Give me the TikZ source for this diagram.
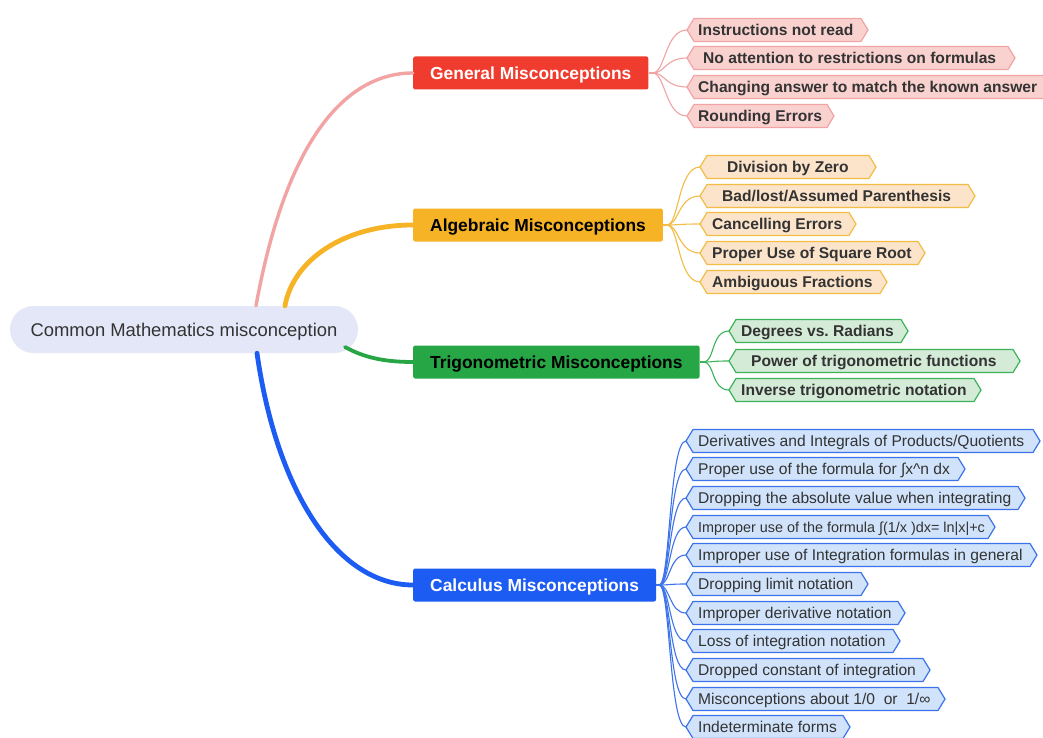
\documentclass[tikz,border=0pt]{standalone}
\usepackage{fontspec}
\setmainfont{Liberation Sans}
\usetikzlibrary{calc}
\frenchspacing
\definecolor{txt}{HTML}{333333}
\definecolor{rootfill}{HTML}{E4E7F8}
\definecolor{genmain}{HTML}{F03C2E}
\definecolor{genfill}{HTML}{F9D2D0}
\definecolor{genline}{HTML}{F2A3A3}
\definecolor{algmain}{HTML}{F5B325}
\definecolor{algfill}{HTML}{FCE4CA}
\definecolor{algline}{HTML}{F3BC45}
\definecolor{trimain}{HTML}{26A645}
\definecolor{trifill}{HTML}{D4EBD7}
\definecolor{triline}{HTML}{3BB358}
\definecolor{calmain}{HTML}{1D5CF3}
\definecolor{calfill}{HTML}{D0E3FA}
\definecolor{calline}{HTML}{3C73EA}
\newcommand{\myRootFont}{\fontsize{18.4}{22}\selectfont}
\newcommand{\myMainFont}{\fontsize{17.4}{21}\selectfont\bfseries}
\newcommand{\myLeafBold}{\fontsize{15.6}{19}\selectfont\bfseries}
\newcommand{\myLeafReg}{\fontsize{15.6}{19}\selectfont}
\newcommand{\myLeafSmall}{\fontsize{14.4}{17}\selectfont}
\tikzset{
  rootbox/.style={fill=rootfill, rounded corners=23.5, minimum width=348, minimum height=47, font=\myRootFont, text=txt, text height=13.2, text depth=0},
  mainbox/.style={rounded corners=2, minimum height=33, inner xsep=17, anchor=west, font=\myMainFont, text height=12.4, text depth=0},
  genbox/.style={fill=genfill, draw=genline, line width=1.2pt, line join=round},
  algbox/.style={fill=algfill, draw=algline, line width=1.2pt, line join=round},
  tribox/.style={fill=trifill, draw=triline, line width=1.2pt, line join=round},
  calbox/.style={fill=calfill, draw=calline, line width=1.2pt, line join=round},
  leaftext/.style={anchor=west, inner sep=0, text=txt, text height=11.2, text depth=0},
  gentext/.style={leaftext, font=\myLeafBold},
  algtext/.style={leaftext, font=\myLeafBold},
  tritext/.style={leaftext, font=\myLeafBold},
  caltext/.style={leaftext, font=\myLeafReg},
  calsmall/.style={leaftext, font=\myLeafSmall, text height=10.3},
  genconn/.style={draw=genline, line width=1.1pt},
  algconn/.style={draw=algline, line width=1.1pt},
  triconn/.style={draw=triline, line width=1.1pt},
  calconn/.style={draw=calline, line width=1.1pt},
  trunk/.style={line width=#1, line cap=round},
}
% #1 name, #2 family, #3 x left tip, #4 x right tip, #5 y, #6 text x, #7 text style, #8 text
\newcommand{\mmleaf}[8]{%
  \draw[#2box] (#3,#5) -- (#3+7,#5-11.5) -- (#4-7,#5-11.5) -- (#4,#5) -- (#4-7,#5+11.5) -- (#3+7,#5+11.5) -- cycle;
  \node[#7] (#1) at (#6,#5) {#8};
  \coordinate (#1tip) at (#3,#5);
}
\begin{document}
\begin{tikzpicture}[x=1pt, y=-1pt]
\useasboundingbox[fill=white] (0,0) rectangle (1043,738);
\begin{scope}
\clip (0,0) rectangle (1043,738);
% root
\node[rootbox] (root) at (184,329.5) {Common Mathematics misconception};
% main nodes
\node[mainbox, fill=genmain, text=white] (gen) at (413,73) {General Misconceptions};
\node[mainbox, fill=algmain, text=black] (alg) at (413,225) {Algebraic Misconceptions};
\node[mainbox, fill=trimain, text=black] (tri) at (413,362) {Trigonometric Misconceptions};
\node[mainbox, fill=calmain, text=white] (cal) at (413,585) {Calculus Misconceptions};
% trunk connectors
\coordinate (rg) at ($(root.north)+(72,0)$);
\coordinate (ra) at ($(root.north)+(101,0)$);
\coordinate (rt) at ($(root.center)+(161,17.5)$);
\coordinate (rc) at ($(root.south)+(73,0)$);
\draw[trunk=3.4pt, genline] (rg) .. controls ($(rg)+(30,-165)$) and ($(gen.west)+(-68,0)$) .. (gen.west);
\draw[trunk=4.8pt, algmain] (ra) .. controls ($(ra)+(8,-45)$) and ($(alg.west)+(-70,0)$) .. (alg.west);
\draw[trunk=3.8pt, trimain] (rt) .. controls ($(rt)+(18,10)$) and ($(tri.west)+(-30,0)$) .. (tri.west);
\draw[trunk=4.8pt, calmain] (rc) .. controls ($(rc)+(20,140)$) and ($(cal.west)+(-75,0)$) .. (cal.west);
% general leaves
\mmleaf{g1}{gen}{687}{868}{30}{698}{gentext}{Instructions not read}
\mmleaf{g2}{gen}{687}{1015}{58}{703}{gentext}{No attention to restrictions on formulas}
\mmleaf{g3}{gen}{687}{1050}{87}{698}{gentext}{Changing answer to match the known answer}
\mmleaf{g4}{gen}{687}{834}{116}{698}{gentext}{Rounding Errors}
% algebraic leaves
\mmleaf{a1}{alg}{700}{876}{167}{727}{algtext}{Division by Zero}
\mmleaf{a2}{alg}{700}{975}{196}{722}{algtext}{Bad/lost/Assumed Parenthesis}
\mmleaf{a3}{alg}{700}{856}{224}{712}{algtext}{Cancelling Errors}
\mmleaf{a4}{alg}{700}{925}{253}{712}{algtext}{Proper Use of Square Root}
\mmleaf{a5}{alg}{700}{887}{282}{712}{algtext}{Ambiguous Fractions}
% trigonometric leaves
\mmleaf{t1}{tri}{729}{908}{331}{741}{tritext}{Degrees vs. Radians}
\mmleaf{t2}{tri}{729}{1020}{361}{751}{tritext}{Power of trigonometric functions}
\mmleaf{t3}{tri}{729}{981}{390}{741}{tritext}{Inverse trigonometric notation}
% calculus leaves
\mmleaf{c1}{cal}{686}{1040}{441}{698}{caltext}{Derivatives and Integrals of Products/Quotients}
\mmleaf{c2}{cal}{686}{965}{469}{698}{caltext}{Proper use of the formula for ∫x\textasciicircum n dx}
\mmleaf{c3}{cal}{686}{1025}{498}{698}{caltext}{Dropping the absolute value when integrating}
\mmleaf{c4}{cal}{686}{995}{527}{698}{calsmall}{Improper use of the formula ∫(1/x )dx= ln|x|+c}
\mmleaf{c5}{cal}{686}{1037}{555}{698}{caltext}{Improper use of Integration formulas in general}
\mmleaf{c6}{cal}{686}{868}{584}{698}{caltext}{Dropping limit notation}
\mmleaf{c7}{cal}{686}{905}{613}{698}{caltext}{Improper derivative notation}
\mmleaf{c8}{cal}{686}{900}{641}{698}{caltext}{Loss of integration notation}
\mmleaf{c9}{cal}{686}{930}{670}{698}{caltext}{Dropped constant of integration}
\mmleaf{c10}{cal}{686}{945}{699}{698}{caltext}{Misconceptions about 1/0\ \ or\ \ 1/∞}
\mmleaf{c11}{cal}{686}{850}{727}{698}{caltext}{Indeterminate forms}
% branch connectors
\coordinate (gb) at ($(gen.east)+(4,0)$);
\coordinate (ab) at ($(alg.east)+(4,0)$);
\coordinate (tb) at ($(tri.east)+(4,0)$);
\coordinate (cb) at ($(cal.east)+(3,0)$);
\draw[genconn] (gen.east) -- (gb);
\draw[algconn] (alg.east) -- (ab);
\draw[triconn] (tri.east) -- (tb);
\draw[calconn] (cal.east) -- (cb);
\foreach \n in {g1,g2,g3,g4} \draw[genconn] (gb) .. controls +(13,0) and +(-22,0) .. (\n tip);
\foreach \n in {a1,a2,a3,a4,a5} \draw[algconn] (ab) .. controls +(12,0) and +(-22,0) .. (\n tip);
\foreach \n in {t1,t2,t3} \draw[triconn] (tb) .. controls +(11,0) and +(-18,0) .. (\n tip);
\foreach \n in {c1,c2,c3,c4,c5,c6,c7,c8,c9,c10,c11} \draw[calconn] (cb) .. controls +(11,0) and +(-17,0) .. (\n tip);
\end{scope}
\end{tikzpicture}
\end{document}
